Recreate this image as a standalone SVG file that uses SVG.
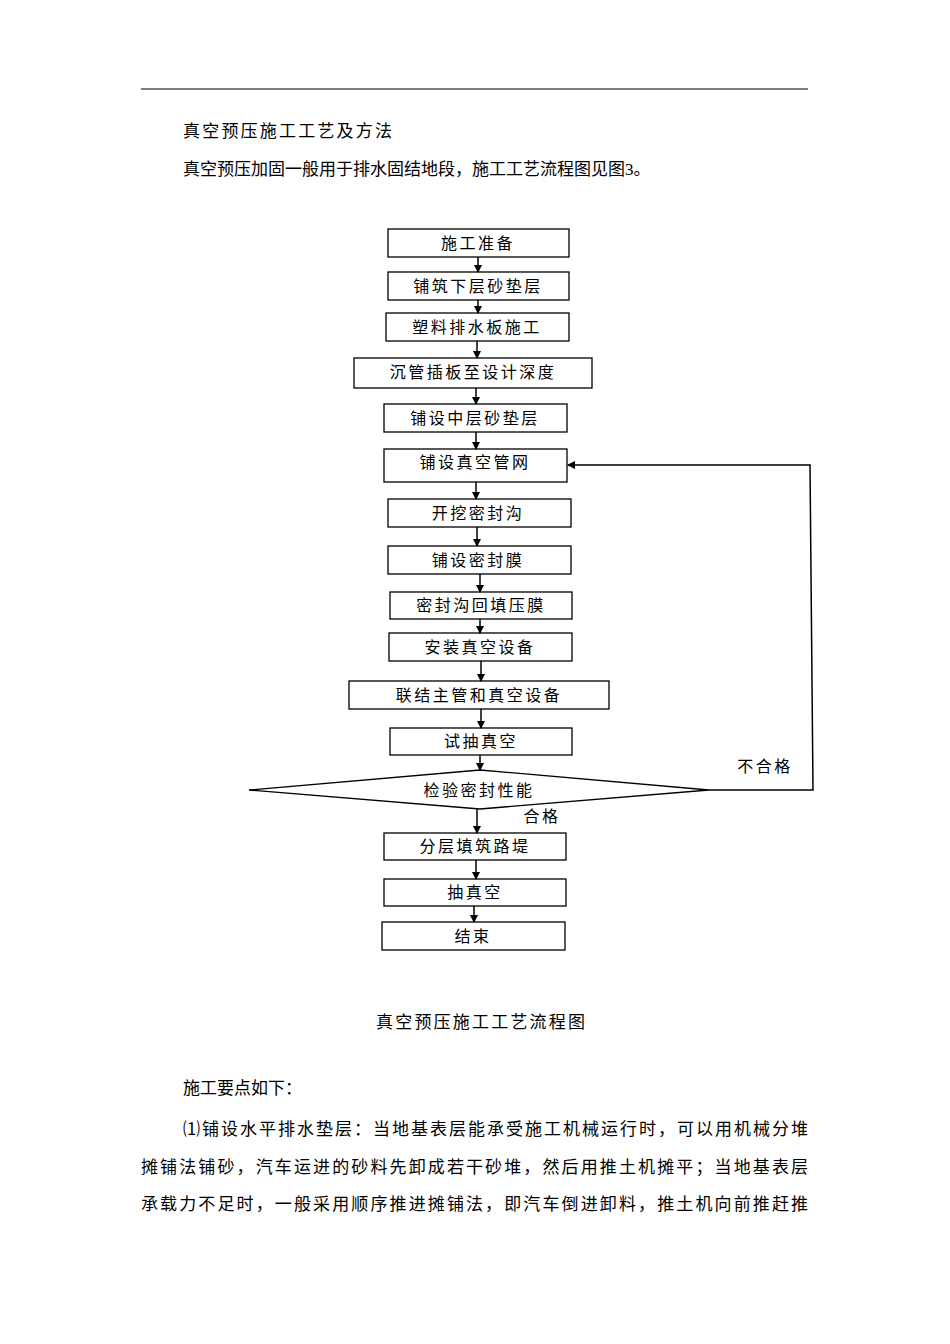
<svg xmlns="http://www.w3.org/2000/svg" width="950" height="1344" viewBox="0 0 950 1344">
<defs>
<marker id="ah" markerWidth="8" markerHeight="8" refX="7" refY="4" orient="auto" markerUnits="userSpaceOnUse"><path d="M0,0 L8,4 L0,8 z" fill="#000"/></marker>
</defs>
<style>
.b{fill:#fff;stroke:#000;stroke-width:1.3}
.t{font-family:"Liberation Serif","Noto Sans CJK SC",serif;font-size:16px;letter-spacing:2.5px;text-anchor:middle;fill:#000}
.p{font-family:"Liberation Serif","Noto Sans CJK SC",serif;font-size:17px;fill:#000}
.c{stroke:#000;stroke-width:1.5;fill:none}
</style>
<rect width="950" height="1344" fill="#fff"/>
<line x1="141" y1="89" x2="808" y2="89" stroke="#000" stroke-width="1.2"/>
<text class="p" x="183" y="137" textLength="209" lengthAdjust="spacing">真空预压施工工艺及方法</text>
<text class="p" x="183" y="175">真空预压加固一般用于排水固结地段，施工工艺流程图见图3。</text>
<g id="n1"><rect class="b" x="388" y="229" width="181" height="28"/><text class="t" x="478" y="249">施工准备</text></g>
<g id="n2"><rect class="b" x="388" y="272" width="181" height="28"/><text class="t" x="478" y="292">铺筑下层砂垫层</text></g>
<g id="n3"><rect class="b" x="386" y="313" width="183" height="28"/><text class="t" x="477" y="333">塑料排水板施工</text></g>
<g id="n4"><rect class="b" x="354" y="358" width="238" height="30"/><text class="t" x="473" y="378">沉管插板至设计深度</text></g>
<g id="n5"><rect class="b" x="384" y="404" width="183" height="28"/><text class="t" x="475" y="424">铺设中层砂垫层</text></g>
<g id="n6"><rect class="b" x="384" y="449" width="183" height="33"/><text class="t" x="475" y="468">铺设真空管网</text></g>
<g id="n7"><rect class="b" x="388" y="499" width="183" height="28"/><text class="t" x="478" y="519">开挖密封沟</text></g>
<g id="n8"><rect class="b" x="388" y="546" width="183" height="28"/><text class="t" x="478" y="566">铺设密封膜</text></g>
<g id="n9"><rect class="b" x="390" y="592" width="182" height="27"/><text class="t" x="481" y="611">密封沟回填压膜</text></g>
<g id="n10"><rect class="b" x="389" y="633" width="183" height="28"/><text class="t" x="480" y="653">安装真空设备</text></g>
<g id="n11"><rect class="b" x="349" y="681" width="260" height="28"/><text class="t" x="479" y="701">联结主管和真空设备</text></g>
<g id="n12"><rect class="b" x="390" y="728" width="182" height="27"/><text class="t" x="481" y="747">试抽真空</text></g>
<g id="n13"><polygon class="b" points="480,770 709,790 480,809 249,790"/><text class="t" x="479" y="796">检验密封性能</text></g>
<g id="n14"><rect class="b" x="384" y="833" width="182" height="27"/><text class="t" x="475" y="852">分层填筑路堤</text></g>
<g id="n15"><rect class="b" x="384" y="879" width="182" height="27"/><text class="t" x="475" y="898">抽真空</text></g>
<g id="n16"><rect class="b" x="382" y="922" width="183" height="28"/><text class="t" x="473" y="942">结束</text></g>
<g id="connectors">
<line class="c" x1="478" y1="257" x2="478" y2="272" marker-end="url(#ah)"/>
<line class="c" x1="478" y1="300" x2="478" y2="313" marker-end="url(#ah)"/>
<line class="c" x1="477" y1="341" x2="477" y2="358" marker-end="url(#ah)"/>
<line class="c" x1="476" y1="388" x2="476" y2="404" marker-end="url(#ah)"/>
<line class="c" x1="476" y1="432" x2="476" y2="449" marker-end="url(#ah)"/>
<line class="c" x1="476" y1="482" x2="476" y2="499" marker-end="url(#ah)"/>
<line class="c" x1="477" y1="527" x2="477" y2="546" marker-end="url(#ah)"/>
<line class="c" x1="480" y1="574" x2="480" y2="592" marker-end="url(#ah)"/>
<line class="c" x1="480" y1="619" x2="480" y2="633" marker-end="url(#ah)"/>
<line class="c" x1="481" y1="661" x2="481" y2="681" marker-end="url(#ah)"/>
<line class="c" x1="481" y1="709" x2="481" y2="728" marker-end="url(#ah)"/>
<line class="c" x1="480" y1="755" x2="480" y2="770" marker-end="url(#ah)"/>
<line class="c" x1="477" y1="809" x2="477" y2="833" marker-end="url(#ah)"/>
<line class="c" x1="476" y1="860" x2="476" y2="879" marker-end="url(#ah)"/>
<line class="c" x1="474" y1="906" x2="474" y2="922" marker-end="url(#ah)"/>
<polyline class="c" points="709,790 813,790 810,465 568,465" marker-end="url(#ah)"/>
<text class="t" x="765" y="772">不合格</text>
<text class="t" x="542" y="822">合格</text>
</g>
<text class="p" x="376" y="1028" textLength="209" lengthAdjust="spacing">真空预压施工工艺流程图</text>
<text class="p" x="183" y="1094">施工要点如下：</text>
<text class="p" x="183" y="1135" textLength="625" lengthAdjust="spacing">⑴铺设水平排水垫层：当地基表层能承受施工机械运行时，可以用机械分堆</text>
<text class="p" x="141" y="1173" textLength="667" lengthAdjust="spacing">摊铺法铺砂，汽车运进的砂料先卸成若干砂堆，然后用推土机摊平；当地基表层</text>
<text class="p" x="141" y="1210" textLength="667" lengthAdjust="spacing">承载力不足时，一般采用顺序推进摊铺法，即汽车倒进卸料，推土机向前推赶推</text>
</svg>
